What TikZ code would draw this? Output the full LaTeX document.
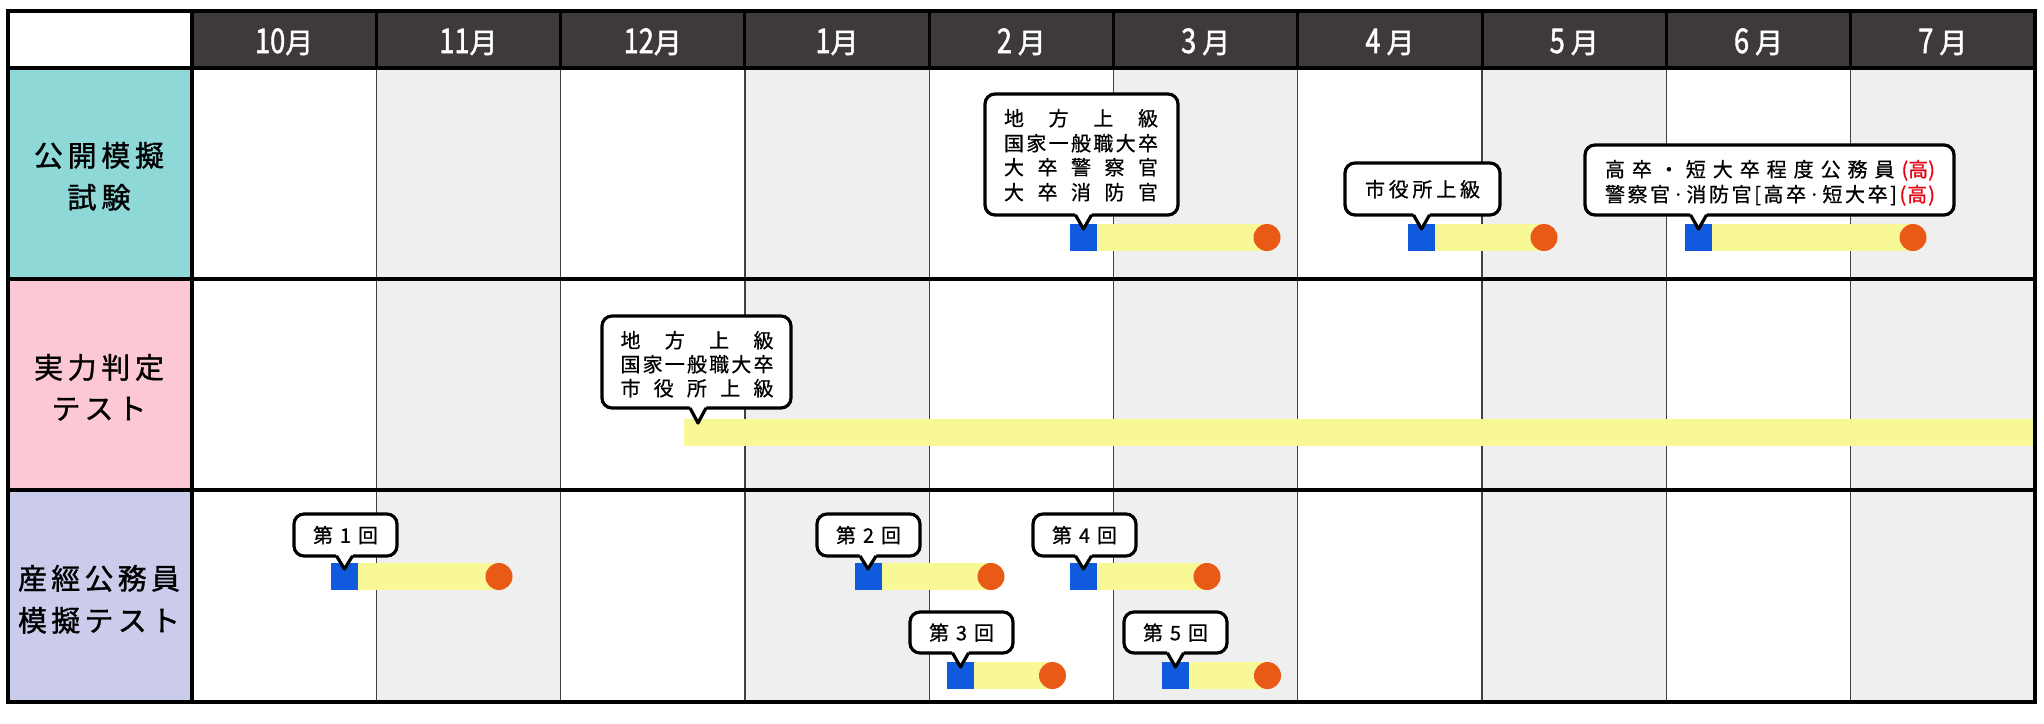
\documentclass[tikz,border=0pt]{standalone}
\usepackage{fontspec}
\usepackage{graphicx}
\setmainfont{Noto Sans CJK JP}
\newfontfamily\jpb[FakeBold=1.2]{Noto Sans CJK JP}
\newfontfamily\jpr[FakeBold=0.6]{Noto Sans CJK JP}
\newfontfamily\jph[FakeBold=1.6]{Noto Sans CJK JP}
\definecolor{hdr}{HTML}{3E3A39}
\definecolor{colgray}{HTML}{EFEFEF}
\definecolor{teal1}{HTML}{8ED8D8}
\definecolor{pink1}{HTML}{FDC8D6}
\definecolor{lav1}{HTML}{CBCBEC}
\definecolor{barY}{HTML}{F8F897}
\definecolor{barB}{HTML}{105BDD}
\definecolor{barO}{HTML}{EA5A17}
\definecolor{redt}{HTML}{E60012}
\definecolor{thinl}{HTML}{404040}
\newcommand{\ganttbar}[3]{%
  \fill[ybarc] ({#1+20},#2) rectangle (#3,{#2+27});
  \fill[bsqc] (#1,#2) rectangle ({#1+27},{#2+27});
  \fill[ocircc] (#3,{#2+13.5}) circle[radius=13.5pt];
}
\newcommand{\callout}[6]{%
  \draw[bubline,fill=white,rounded corners=10pt] (#1,#2) rectangle (#3,#4);
  \fill[white] ({#5-8.5},{#4-1.8}) -- ({#5+8.5},{#4-1.8}) -- (#5,#6) -- cycle;
  \draw[bubline,line join=round] ({#5-8},#4) -- (#5,#6) -- ({#5+8},#4);
}
\newcommand{\mon}[1]{\scalebox{0.8}[1]{\fontsize{34}{34}\selectfont #1}}
\begin{document}
\begin{tikzpicture}[x=1pt,y=-1pt,
  bubline/.style={line width=3.2pt,draw=black},
  ybarc/.style={fill=barY},
  bsqc/.style={fill=barB},
  ocircc/.style={fill=barO},
  btxt/.style={inner sep=0pt,font=\jpr\fontsize{20}{24}\selectfont,text height=15.6pt,text depth=0pt},
  rtxt/.style={inner sep=0pt,font=\jpb\fontsize{29}{34}\selectfont,text height=22.6pt,text depth=0pt},
  htxt/.style={inner sep=0pt,text=white,font=\jph\fontsize{28}{32}\selectfont,text height=24pt,text depth=0pt},
  thick1/.style={line width=3.5pt,draw=black},
  thin1/.style={line width=1.3pt,draw=thinl}]
\useasboundingbox (0,0) rectangle (2044,723);
\fill[white] (0,0) rectangle (2044,723);
% gray columns
\foreach \i in {1,3,5,7,9} {
  \fill[colgray] ({192+184.3*\i},68) rectangle ({192+184.3*(\i+1)},702);
}
% label fills
\fill[teal1] (8,68) rectangle (192,279);
\fill[pink1] (8,279) rectangle (192,490);
\fill[lav1] (8,490) rectangle (192,702);
% header fill
\fill[hdr] (192,11) rectangle (2034.5,68);
% thin body lines
\foreach \i in {1,...,9} {
  \draw[thin1] ({192+184.3*\i},68) -- ({192+184.3*\i},702);
}
% bars row 1
\ganttbar{1070}{224}{1267}
\ganttbar{1408}{224}{1544}
\ganttbar{1685}{224}{1913}
% bar row 2
\fill[ybarc] (684,419) rectangle (2033,446);
% bars row 3
\ganttbar{331}{563}{499}
\ganttbar{854.5}{563}{991}
\ganttbar{1070}{563}{1207}
\ganttbar{947}{662}{1052.5}
\ganttbar{1162}{662}{1267.5}
% thick grid lines
\foreach \i in {1,...,9} {
  \draw[line width=3pt,draw=black] ({192+184.3*\i},11) -- ({192+184.3*\i},68);
}
\draw[thick1] (8,68) -- (2034.5,68);
\draw[thick1] (8,279) -- (2034.5,279);
\draw[thick1] (8,490) -- (2034.5,490);
\draw[thick1] (192,11) -- (192,702);
\draw[line width=4pt,draw=black] (8,11) rectangle (2034.5,702);
% header text
\foreach \m [count=\i from 0] in {{\mon{10}月},{\mon{11}月},{\mon{12}月},{\mon{1}月},{\mon{2}\kern6pt 月},{\mon{3}\kern6pt 月},{\mon{4}\kern6pt 月},{\mon{5}\kern6pt 月},{\mon{6}\kern6pt 月},{\mon{7}\kern6pt 月}} {
  \node[htxt] (m\i) at ({192+184.3*(\i+0.5)},41) {\m};
}
% row labels
\node[rtxt] (r1a) at (99,155) {\hbox to 130pt{公\hfil 開\hfil 模\hfil 擬}};
\node[rtxt] (r1b) at (99,197) {\hbox to 63pt{試\hfil 験}};
\node[rtxt] (r2a) at (99,367) {\hbox to 130pt{実\hfil 力\hfil 判\hfil 定}};
\node[rtxt] (r2b) at (99,408) {\hbox to 95pt{テ\hfil ス\hfil ト}};
\node[rtxt] (r3a) at (99,578) {\hbox to 162pt{産\hfil 經\hfil 公\hfil 務\hfil 員}};
\node[rtxt] (r3b) at (99,620) {\hbox to 162pt{模\hfil 擬\hfil テ\hfil ス\hfil ト}};
% callouts row 1
\callout{985}{94}{1178}{215}{1083.5}{229}
\node[btxt] (b1a) at (1081,118) {\hbox to 154pt{地\hfil 方\hfil 上\hfil 級}};
\node[btxt] (b1b) at (1081,143) {\hbox to 154pt{国\hfil 家\hfil 一\hfil 般\hfil 職\hfil 大\hfil 卒}};
\node[btxt] (b1c) at (1081,167) {\hbox to 154pt{大\hfil 卒\hfil 警\hfil 察\hfil 官}};
\node[btxt] (b1d) at (1081,192) {\hbox to 154pt{大\hfil 卒\hfil 消\hfil 防\hfil 官}};
\callout{1345}{163}{1500}{215}{1421.5}{229}
\node[btxt] (b2a) at (1422.5,189) {\hbox to 115pt{市\hfil 役\hfil 所\hfil 上\hfil 級}};
\callout{1585}{145}{1954}{215}{1698.5}{229}
\node[btxt] (b3a) at (1770,169) {\hbox to 330pt{高\hfil 卒\hfil ・\hfil 短\hfil 大\hfil 卒\hfil 程\hfil 度\hfil 公\hfil 務\hfil 員\hfil \textcolor{redt}{(高)}}};
\node[btxt] (b3b) at (1770,194) {\hbox to 330pt{警\hfil 察\hfil 官\hfil ·\hfil 消\hfil 防\hfil 官\hfil [\hfil 高\hfil 卒\hfil ·\hfil 短\hfil 大\hfil 卒\hfil ]\hfil \textcolor{redt}{(\kern1pt 高\kern1pt )}}};
% callout row 2
\callout{602}{316}{791}{408}{698}{423}
\node[btxt] (b4a) at (697,340) {\hbox to 153pt{地\hfil 方\hfil 上\hfil 級}};
\node[btxt] (b4b) at (697,364) {\hbox to 153pt{国\hfil 家\hfil 一\hfil 般\hfil 職\hfil 大\hfil 卒}};
\node[btxt] (b4c) at (697,388) {\hbox to 153pt{市\hfil 役\hfil 所\hfil 上\hfil 級}};
% callouts row 3
\callout{294}{514}{397}{556}{344.5}{569}
\node[btxt] (c1) at (345.5,535) {\hbox to 65pt{第\hfil 1\hfil 回}};
\callout{817}{514}{920}{556}{868}{569}
\node[btxt] (c2) at (868.5,535) {\hbox to 65pt{第\hfil 2\hfil 回}};
\callout{1033}{514}{1136}{556}{1083.5}{569}
\node[btxt] (c4) at (1084.5,535) {\hbox to 65pt{第\hfil 4\hfil 回}};
\callout{910}{612}{1013}{653}{960.5}{667}
\node[btxt] (c3) at (961.5,632.5) {\hbox to 65pt{第\hfil 3\hfil 回}};
\callout{1124}{612}{1227}{653}{1175.5}{667}
\node[btxt] (c5) at (1175.5,632.5) {\hbox to 65pt{第\hfil 5\hfil 回}};
\end{tikzpicture}
\end{document}
